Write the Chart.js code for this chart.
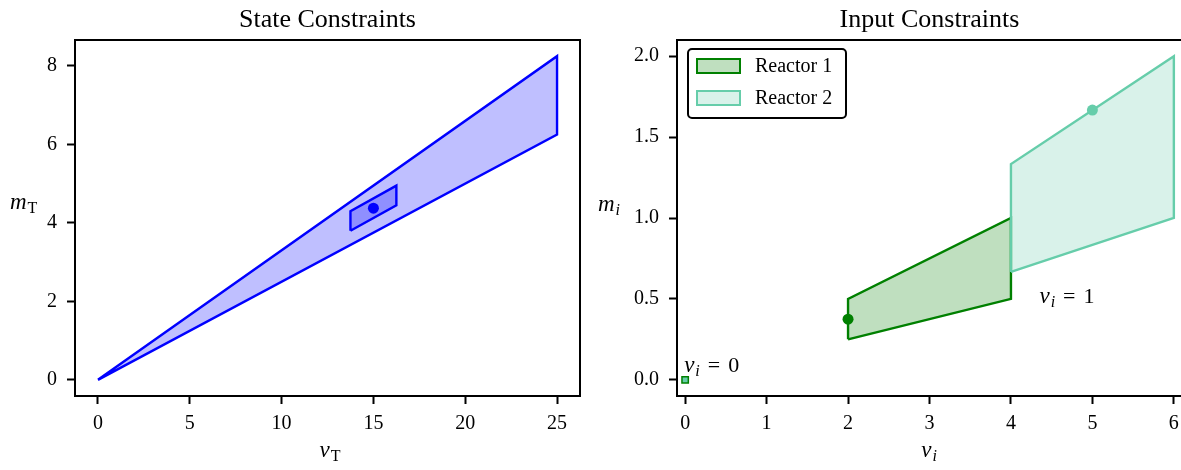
<!DOCTYPE html>
<html><head><meta charset="utf-8">
<script src="https://cdn.jsdelivr.net/npm/chart.js@4/dist/chart.umd.min.js"></script>
<style>
html,body{margin:0;padding:0;background:#fff;overflow:hidden;width:1181px;height:470px;position:relative;}
#c1{position:absolute;left:0;top:0;}
#c2{position:absolute;left:580px;top:0;}
</style></head><body>
<canvas id="c1" width="600" height="470"></canvas>
<canvas id="c2" width="620" height="470"></canvas>
<script>
// ---- data ----
const stateOuterV = [0, 25, 25, 0];
const stateOuterM = [0, 8.25, 6.25, 0];
const stateInnerV = [13.75, 13.75, 16.25, 16.25, 13.75];
const stateInnerM = [3.8, 4.3, 4.95, 4.45, 3.8];
const stateNominal = [15, 4.375];
const reactor1V = [2, 2, 4, 4, 2];
const reactor1M = [0.25, 0.5, 1.0, 0.5, 0.25];
const reactor2V = [4, 4, 6, 6, 4];
const reactor2M = [0.667, 1.333, 2.0, 1.0, 0.667];
const reactor1Point = [2, 0.375];
const reactor2Point = [5, 1.667];
const offPoint = [0, 0];
const stateXTicks = [0, 5, 10, 15, 20, 25];
const stateYTicks = [0, 2, 4, 6, 8];
const inputXTicks = [0, 1, 2, 3, 4, 5, 6];
const inputYTicks = [0, 0.5, 1.0, 1.5, 2.0];
const inputYTickLabels = ['0.0', '0.5', '1.0', '1.5', '2.0'];
const seriesNames = ['Reactor 1', 'Reactor 2'];
const titles = ['State Constraints', 'Input Constraints'];

// ---- helpers ----
const FONT = "'Liberation Serif', 'DejaVu Serif', serif";
const BLUE = '#0000ff', GREEN = '#008000', AQUA = '#66cdaa';
const LW = 2.4;
function pts(xs, ys){ return xs.map((x, i) => ({x: x, y: ys[i]})); }

function axis(min, max, ticks, labels, pos, size){
  return {
    type: 'linear', position: pos, min: min, max: max,
    afterBuildTicks: s => { s.ticks = ticks.map(v => ({value: v})); },
    afterFit: s => { if (pos === 'left') s.width = size; else s.height = size; },
    ticks: {
      font: {family: FONT, size: 20}, color: '#000', padding: pos === 'left' ? 10 : 8,
      maxRotation: 0, autoSkip: false,
      callback: (v, i) => labels ? labels[i] : String(v)
    },
    grid: {drawOnChartArea: false, drawTicks: true, tickLength: 8, tickWidth: 2,
           tickColor: '#000', color: '#000'},
    border: {display: false}
  };
}

function drawMath(ctx, x, y, parts, align){
  let w = 0;
  parts.forEach(p => { ctx.font = p.f; w += ctx.measureText(p.t).width + (p.gap || 0); });
  let cx = align === 'center' ? x - w / 2 : x;
  ctx.fillStyle = '#000';
  ctx.textBaseline = 'alphabetic';
  ctx.textAlign = 'left';
  parts.forEach(p => {
    ctx.font = p.f;
    ctx.fillText(p.t, cx, y + (p.dy || 0));
    cx += ctx.measureText(p.t).width + (p.gap || 0);
  });
}
const IT = "italic 23px " + FONT, RM = "22px " + FONT, SUB = "16px " + FONT, SUBI = "italic 16px " + FONT;

function decor(title, extra){
  return {
    id: 'decor',
    afterDraw(chart){
      const ctx = chart.ctx, a = chart.chartArea;
      ctx.save();
      ctx.strokeStyle = '#000'; ctx.lineWidth = 2;
      ctx.strokeRect(a.left, a.top, a.right - a.left, a.bottom - a.top);
      ctx.fillStyle = '#000';
      ctx.font = "26px " + FONT;
      ctx.textAlign = 'center'; ctx.textBaseline = 'alphabetic';
      ctx.fillText(title, (a.left + a.right) / 2, 27);
      extra(chart, ctx, a);
      ctx.restore();
    }
  };
}

// ---- left chart ----
new Chart(document.getElementById('c1'), {
  type: 'scatter',
  data: {
    datasets: [
      {data: pts(stateOuterV, stateOuterM), showLine: true, fill: 'shape', tension: 0,
       borderColor: BLUE, backgroundColor: 'rgba(0,0,255,0.25)', borderWidth: LW, pointRadius: 0, order: 3},
      {data: pts(stateInnerV, stateInnerM), showLine: true, fill: 'shape', tension: 0,
       borderColor: BLUE, backgroundColor: 'rgba(0,0,255,0.25)', borderWidth: LW, pointRadius: 0, order: 2},
      {data: [{x: stateNominal[0], y: stateNominal[1]}], pointRadius: 5.5, pointBackgroundColor: BLUE,
       pointBorderWidth: 0, order: 1}
    ]
  },
  options: {
    responsive: false, animation: false, devicePixelRatio: 1,
    layout: {padding: {top: 40, left: 0, right: 20, bottom: 0}},
    plugins: {legend: {display: false}, tooltip: {enabled: false}, title: {display: false}},
    scales: {
      x: axis(-1.25, 26.25, stateXTicks, null, 'bottom', 74),
      y: axis(-0.4125, 8.6625, stateYTicks, null, 'left', 75)
    }
  },
  plugins: [decor(titles[0], (chart, ctx, a) => {
    drawMath(ctx, 330, 457, [{t: 'v', f: IT, gap: 1}, {t: 'T', f: SUB, dy: 4}], 'center');
    drawMath(ctx, 10, 209, [{t: 'm', f: IT, gap: 1}, {t: 'T', f: SUB, dy: 4}], 'left');
  })]
});

// ---- right chart ----
new Chart(document.getElementById('c2'), {
  type: 'scatter',
  data: {
    datasets: [
      {label: seriesNames[0], data: pts(reactor1V, reactor1M), showLine: true, fill: 'shape', tension: 0,
       borderColor: GREEN, backgroundColor: 'rgba(0,128,0,0.25)', borderWidth: LW, pointRadius: 0, order: 5},
      {label: seriesNames[1], data: pts(reactor2V, reactor2M), showLine: true, fill: 'shape', tension: 0,
       borderColor: AQUA, backgroundColor: 'rgba(102,205,170,0.25)', borderWidth: LW, pointRadius: 0, order: 4},
      {data: [{x: reactor1Point[0], y: reactor1Point[1]}], pointRadius: 5.5, pointBackgroundColor: GREEN,
       pointBorderWidth: 0, order: 2},
      {data: [{x: reactor2Point[0], y: reactor2Point[1]}], pointRadius: 5.5, pointBackgroundColor: AQUA,
       pointBorderWidth: 0, order: 1},
      {data: [{x: offPoint[0], y: offPoint[1]}], pointStyle: 'rect', pointRadius: 4.5,
       pointBackgroundColor: AQUA, pointBorderColor: GREEN, pointBorderWidth: 1.5, order: 0}
    ]
  },
  options: {
    responsive: false, animation: false, devicePixelRatio: 1,
    layout: {padding: {top: 40, left: 0, right: 18, bottom: 0}},
    plugins: {legend: {display: false}, tooltip: {enabled: false}, title: {display: false}},
    scales: {
      x: axis(-0.1, 6.1, inputXTicks, null, 'bottom', 74),
      y: axis(-0.1, 2.1, inputYTicks, inputYTickLabels, 'left', 97)
    }
  },
  plugins: [decor(titles[1], (chart, ctx, a) => {
    drawMath(ctx, 349, 457, [{t: 'v', f: IT, gap: 1}, {t: 'i', f: SUBI, dy: 4}], 'center');
    drawMath(ctx, 18, 211, [{t: 'm', f: IT, gap: 1}, {t: 'i', f: SUBI, dy: 4}], 'left');
    const xs = chart.scales.x, ys = chart.scales.y;
    const eq = (n) => [{t: 'v', f: IT, gap: 1}, {t: 'i', f: SUBI, dy: 4, gap: 8},
                       {t: '=', f: RM, gap: 8}, {t: n, f: RM}];
    drawMath(ctx, xs.getPixelForValue(0) - 1, ys.getPixelForValue(0) - 8, eq('0'), 'left');
    drawMath(ctx, xs.getPixelForValue(4.35), ys.getPixelForValue(0.5) + 4, eq('1'), 'left');
    // legend
    const bx = 108, by = 49, bw = 158, bh = 69;
    ctx.fillStyle = '#fff'; ctx.strokeStyle = '#000'; ctx.lineWidth = 2;
    ctx.beginPath(); ctx.roundRect(bx, by, bw, bh, 4); ctx.fill(); ctx.stroke();
    const items = [[GREEN, 'rgba(0,128,0,0.25)'], [AQUA, 'rgba(102,205,170,0.25)']];
    items.forEach((it, k) => {
      const y0 = 59 + k * 32;
      ctx.fillStyle = it[1]; ctx.fillRect(117, y0, 43, 14);
      ctx.strokeStyle = it[0]; ctx.lineWidth = 2; ctx.strokeRect(117, y0, 43, 14);
      ctx.fillStyle = '#000'; ctx.font = "20px " + FONT; ctx.textAlign = 'left'; ctx.textBaseline = 'middle';
      ctx.fillText(seriesNames[k], 175, y0 + 8);
    });
  })]
});
</script>
</body></html>
